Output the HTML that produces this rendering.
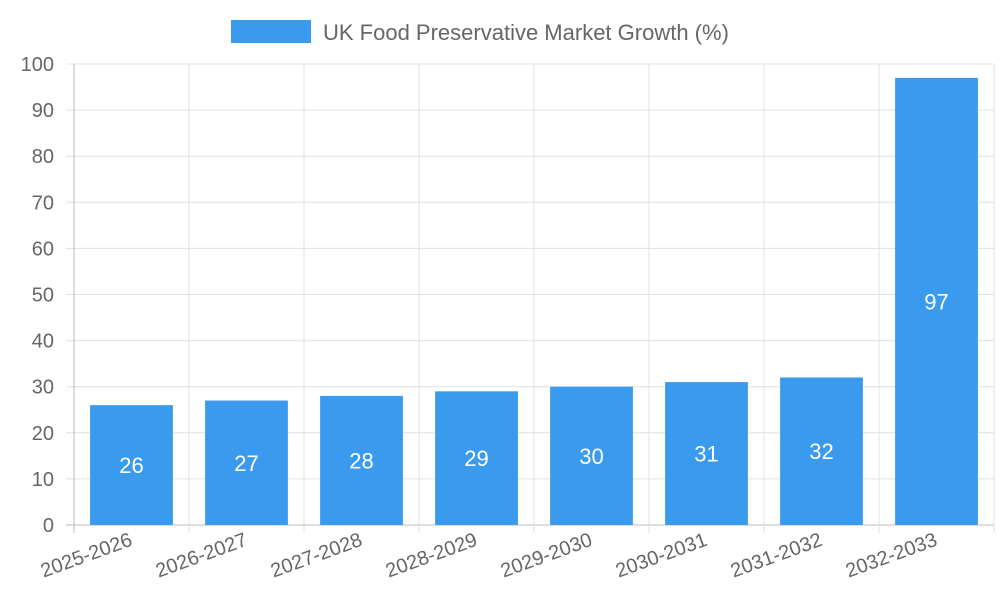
<!DOCTYPE html>
<html><head><meta charset="utf-8"><style>
body{margin:0;background:#fff;}
svg{display:block;font-family:"Liberation Sans",sans-serif;}
</style></head><body>
<svg id="c" width="1000" height="600">
<g>
<rect x="231" y="20" width="80" height="23" fill="#3a9bee"/>
<text x="323" y="40" font-size="22" fill="#666">UK Food Preservative Market Growth (%)</text>
</g>
</svg>
<script>
const categories=["2025-2026","2026-2027","2027-2028","2028-2029","2029-2030","2030-2031","2031-2032","2032-2033"];
const values=[26,27,28,29,30,31,32,97];
const yTicks=[0,10,20,30,40,50,60,70,80,90,100];
const svg=document.getElementById('c');
const NS='http://www.w3.org/2000/svg';
const L=74,R=994,T=64,B=525,yMax=100;
const bw=(R-L)/categories.length;
const y=v=>B-(v/yMax)*(B-T);
const x=i=>L+i*bw;
function mk(t,a,p){const e=document.createElementNS(NS,t);for(const k in a)e.setAttribute(k,a[k]);(p||svg).appendChild(e);return e;}
const grid=mk('g',{});


yTicks.forEach(t=>{
 const l=mk('line',{x1:L-8,x2:R,y1:y(t),y2:y(t),stroke:t===0?'#bbb':'#e0e0e0','stroke-width':1},grid);
 
 
 const tx=mk('text',{x:L-20,y:y(t)+7,'text-anchor':'end','font-size':20,fill:'#666'},grid);
 tx.textContent=t;
 
 
});
for(let i=0;i<=categories.length;i++){
 const l=mk('line',{x1:x(i),x2:x(i),y1:T,y2:B+8,stroke:i===0?'#bbb':'#e0e0e0','stroke-width':1},grid);
 
 
}
categories.forEach((c,i)=>{
 const cx=x(i)+bw/2, w=bw*0.72;
 const r=mk('rect',{x:cx-w/2,y:y(values[i]),width:w,height:B-y(values[i]),fill:'#3a9bee'});
 
 
 const v=mk('text',{x:cx,y:(y(values[i])+B)/2+8,'text-anchor':'middle','font-size':22,fill:'#fff'});
 v.textContent=values[i];
 
 
 const t=mk('text',{x:cx+2,y:B+20,'text-anchor':'end','font-size':20,fill:'#666',transform:`rotate(-20 ${cx+2} ${B+20})`});
 t.textContent=c;
 
 
});
</script>
</body></html>
